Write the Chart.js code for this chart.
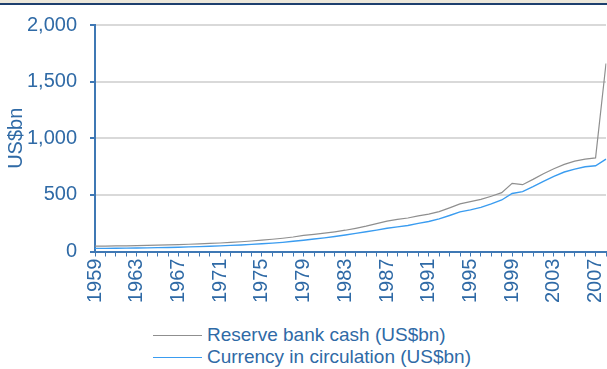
<!DOCTYPE html>
<html lang="en">
<head>
  <meta charset="UTF-8">
  <title>Reserve bank cash and currency in circulation</title>
  <script src="https://cdn.jsdelivr.net/npm/chart.js"></script>
  <style>
    body { margin: 0; background: #fff; font-family: "Liberation Sans", Arial, sans-serif; }
    #topbar { position: absolute; left: 0; top: 0; width: 607px; height: 3px; background: #ece7da; border-bottom: 2px solid #1d3f6e; }
    #wrap { position: absolute; left: 0; top: 0; width: 607px; height: 312px; }
    #legend { position: absolute; left: 153px; top: 324px; color: #2f6aa6; font-size: 19px; }
    .item { height: 22px; line-height: 22px; white-space: nowrap; }
    .swatch { display: inline-block; width: 49px; height: 0; vertical-align: middle; margin-right: 5px; }
  </style>
</head>
<body>
  <div id="topbar"></div>
  <div id="wrap"><canvas id="chart"></canvas></div>
  <div id="legend">
    <div class="item"><span class="swatch" style="border-top:1px solid #8f8f8f"></span>Reserve bank cash (US$bn)</div>
    <div class="item"><span class="swatch" style="border-top:1px solid #3a9cf0"></span>Currency in circulation (US$bn)</div>
  </div>

<script>
  const years = [];
  for (let y = 1959; y <= 2008; y++) years.push(String(y));

  // US$bn (year-end)
  const reserveBankCash = [
    48, 48, 49, 50, 52, 54, 56, 58, 61, 64,
    67, 71, 75, 80, 86, 93, 100, 108, 117, 128,
    142, 152, 162, 174, 188, 205, 224, 246, 268, 284,
    296, 315, 330, 352, 385, 420, 440, 460, 488, 520,
    602, 590, 637, 687, 731, 769, 798, 816, 827, 1660
  ];
  const currencyInCirculation = [
    28, 28, 29, 30, 31, 32, 34, 36, 38, 41,
    43, 46, 50, 54, 58, 63, 68, 74, 81, 90,
    100, 110, 120, 132, 146, 160, 174, 189, 205, 218,
    230, 248, 265, 288, 318, 350, 368, 390, 420, 455,
    512, 529, 573, 620, 664, 702, 728, 748, 757, 816
  ];
  const yTicks = [0, 500, 1000, 1500, 2000];

  const textBlue = '#2f6aa6';
  const axisBlue = '#3f78b4';
  const font = { family: '"Liberation Sans", Arial, sans-serif', size: 20 };

  const chart = new Chart(document.getElementById('chart'), {
    type: 'line',
    data: {
      labels: years,
      datasets: [
        {
          label: 'Reserve bank cash (US$bn)',
          data: reserveBankCash,
          borderColor: '#8f8f8f',
          borderWidth: 1.2,
          pointRadius: 0,
          tension: 0
        },
        {
          label: 'Currency in circulation (US$bn)',
          data: currencyInCirculation,
          borderColor: '#3a9cf0',
          borderWidth: 1.4,
          pointRadius: 0,
          tension: 0
        }
      ]
    },
    options: {
      responsive: true,
      maintainAspectRatio: false,
      animation: false,
      layout: { padding: { left: 4, right: 1, top: 16, bottom: 7 } },
      plugins: { legend: { display: false }, tooltip: { enabled: false } },
      scales: {
        x: {
          type: 'category',
          offset: false,
          grid: { drawOnChartArea: false, drawTicks: true, tickLength: 5, color: axisBlue },
          border: { color: axisBlue, width: 2 },
          afterFit: (axis) => { axis.paddingLeft = 0; axis.paddingRight = 0; },
          ticks: {
            autoSkip: false,
            minRotation: 90,
            maxRotation: 90,
            color: textBlue,
            padding: 2,
            font: font,
            callback: (v, i) => (i % 4 === 0 ? years[i] : '')
          }
        },
        y: {
          min: 0,
          max: 2000,
          afterBuildTicks: (axis) => { axis.ticks = yTicks.map(v => ({ value: v })); },
          afterFit: (axis) => { axis.width = 91; },
          grid: { color: '#d9d9d9', lineWidth: 2, tickColor: axisBlue, tickLength: 5 },
          border: { color: axisBlue, width: 2 },
          ticks: {
            color: textBlue,
            padding: 13,
            font: font,
            callback: (v) => v.toLocaleString('en-US')
          },
          title: {
            display: true,
            text: 'US$bn',
            color: textBlue,
            padding: 0,
            font: font
          }
        }
      }
    }
  });
</script>
</body>
</html>
